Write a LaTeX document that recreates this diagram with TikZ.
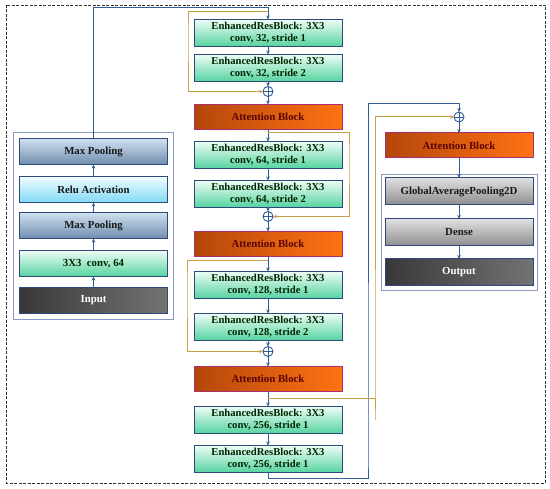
\documentclass[tikz,border=0pt]{standalone}
\usepackage{fontspec}
\setmainfont{Liberation Serif}
\usepackage{tikz}
\usetikzlibrary{fit,positioning,arrows.meta}

\definecolor{edgeblue}{HTML}{2E4A7A}
\definecolor{flowblue}{HTML}{2F5D95}
\definecolor{skipgold}{HTML}{C8A048}
\definecolor{groupedge}{HTML}{8A98C4}
\definecolor{mintlight}{HTML}{EEFDF6}
\definecolor{mintdark}{HTML}{55D3A0}
\definecolor{attnedge}{HTML}{A8306E}
\definecolor{attndark}{HTML}{B4460A}
\definecolor{attnbright}{HTML}{FF7214}
\definecolor{attntext}{HTML}{5A0505}
\definecolor{pooltop}{HTML}{D0E1F1}
\definecolor{poolbottom}{HTML}{6F8DAE}
\definecolor{relutop}{HTML}{F2FDFF}
\definecolor{relubottom}{HTML}{80D9F5}

\begin{document}
\begin{tikzpicture}[
  x=1pt, y=-1pt,
  node distance=12pt,
  box/.style={rectangle, draw=edgeblue, line width=1pt, outer sep=0pt, minimum width=148pt, minimum height=27pt, inner sep=1pt, align=center, font=\fontsize{10.8}{12.5}\selectfont\bfseries},
  resblock/.style={box, font=\fontsize{10.6}{12}\selectfont\bfseries, top color=mintlight, bottom color=mintdark, text=black!85!green},
  attn/.style={box, draw=attnedge, minimum height=25pt, left color=attndark, right color=attnbright, text=attntext},
  pool/.style={box, minimum height=26pt, top color=pooltop, bottom color=poolbottom, text=black!90},
  relu/.style={box, minimum height=26pt, top color=relutop, bottom color=relubottom, text=black!90},
  convbox/.style={box, minimum height=26pt, top color=mintlight, bottom color=mintdark, text=black!85!green},
  darkbox/.style={box, left color=black!78, right color=black!55, text=white},
  greybox/.style={box, top color=black!12, bottom color=black!45, text=black!90},
  adder/.style={circle, draw=flowblue, line width=0.9pt, outer sep=0pt, minimum size=10pt, inner sep=0pt,
    path picture={\draw[flowblue, line width=0.9pt] (path picture bounding box.north) -- (path picture bounding box.south) (path picture bounding box.west) -- (path picture bounding box.east);}},
  arrow/.style={-{Stealth[length=4pt,width=3.5pt]}, draw=flowblue, line width=1pt},
  skip/.style={-{Stealth[length=4pt,width=3.5pt]}, draw=skipgold, line width=1pt},
  group/.style={draw=groupedge, line width=0.8pt, inner sep=6pt}
]
\useasboundingbox (0,0) rectangle (550,489);
\draw[line width=0.9pt, dash pattern=on 3pt off 1.5pt, black!80] (6,5) rectangle (545,483);

% stem
\node[darkbox, minimum height=26pt] (input) at (93.5,300.5) {Input};
\node[convbox, above=11pt of input] (conv) {3X3\ \ conv, 64};
\node[pool, above=12pt of conv] (pool1) {Max Pooling};
\node[relu, above=10pt of pool1] (act) {Relu Activation};
\node[pool, above=12pt of act] (pool2) {Max Pooling};
\node[group, fit=(pool2)(act)(pool1)(conv)(input)] (stem) {};

% residual stages
\node[resblock] (erb1) at (268,33) {EnhancedResBlock: 3X3\\conv, 32, stride 1};
\node[resblock, below=8pt of erb1] (erb2) {EnhancedResBlock: 3X3\\conv, 32, stride 2};
\node[adder, below=5pt of erb2] (add1) {};
\node[attn, below=8pt of add1] (att1) {Attention Block};
\node[resblock, below=of att1] (erb3) {EnhancedResBlock: 3X3\\conv, 64, stride 1};
\node[resblock, below=of erb3] (erb4) {EnhancedResBlock: 3X3\\conv, 64, stride 2};
\node[adder, below=4pt of erb4] (add2) {};
\node[attn, below=10pt of add2] (att2) {Attention Block};
\node[resblock, below=15pt of att2] (erb5) {EnhancedResBlock: 3X3\\conv, 128, stride 1};
\node[resblock, below=15pt of erb5] (erb6) {EnhancedResBlock: 3X3\\conv, 128, stride 2};
\node[adder, below=6pt of erb6] (add3) {};
\node[attn, below=10pt of add3] (att3) {Attention Block};
\node[resblock, below=15pt of att3] (erb7) {EnhancedResBlock: 3X3\\conv, 256, stride 1};
\node[resblock, below=of erb7] (erb8) {EnhancedResBlock: 3X3\\conv, 256, stride 1};

% head
\node[adder] (add4) at (459,117) {};
\node[attn, below=11pt of add4] (att4) {Attention Block};
\node[greybox, below=20pt of att4] (gap) {GlobalAveragePooling2D};
\node[greybox, below=14pt of gap] (dense) {Dense};
\node[darkbox, below=13pt of dense] (output) {Output};
\node[group, inner sep=4pt, fit=(gap)(dense)(output)] (head) {};

% Arrows
\foreach \a/\b in {input/conv, conv/pool1, pool1/act, act/pool2,
  erb1/erb2, erb2/add1, add1/att1, att1/erb3, erb3/erb4, erb4/add2, add2/att2,
  att2/erb5, erb5/erb6, erb6/add3, add3/att3, att3/erb7, erb7/erb8,
  add4/att4, att4/gap, gap/dense, dense/output}
  \draw[arrow] (\a) -- (\b);

\draw[arrow] (pool2.north) |- ([yshift=11.5pt]erb1.north) -- (erb1.north);
\draw[arrow] (erb8.south) -- ++(0,6) -| ([xshift=26pt]erb8.east) |- ([yshift=8pt]add4.north) -- (add4.north);

% skip connections
\draw[skip] ([yshift=7.5pt]erb1.north) -| ([xshift=-6pt]erb1.west) |- (add1.west);
\draw[skip] ([yshift=-3pt]att1.south) -| ([xshift=7pt]erb3.east) |- (add2.east);
\draw[skip] ([yshift=-4.5pt]att2.south) -| ([xshift=-7pt]erb5.west) |- (add3.west);
\draw[skip] ([yshift=-7.5pt]att3.south) -| ([xshift=33pt]erb7.east) |- (add4.west);

\end{tikzpicture}
\end{document}
